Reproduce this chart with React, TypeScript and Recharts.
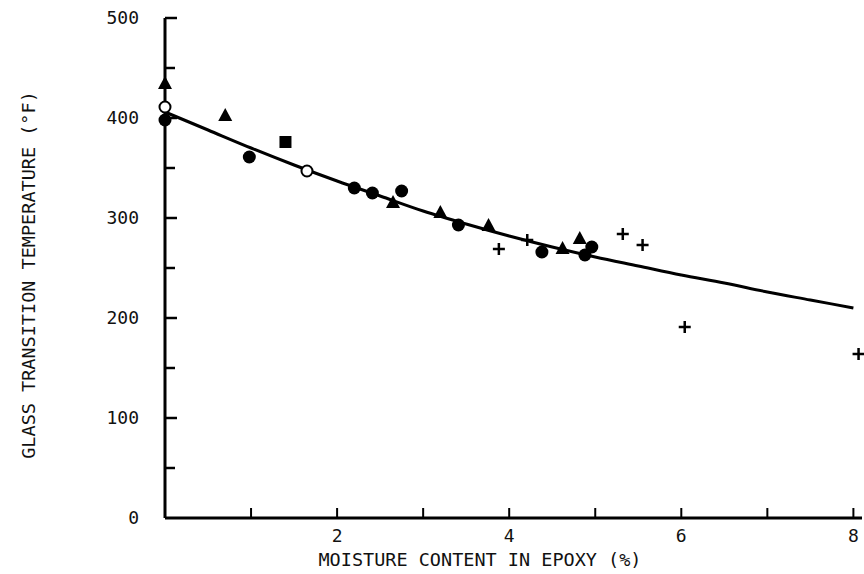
import React from 'react'
import { ComposedChart, Line, Scatter, XAxis, YAxis, Label } from 'recharts'

// x = moisture content (%), y = glass transition temperature (°F)
const xTicks = [0, 1, 2, 3, 4, 5, 6, 7, 8]
const xTickLabels = ['', '', '2', '', '4', '', '6', '', '8']
const yTicks = [0, 50, 100, 150, 200, 250, 300, 350, 400, 450, 500]
const yTickLabels = ['0', '', '100', '', '200', '', '300', '', '400', '', '500']

const fitCurve = [
  { x: 0, y: 406 }, { x: 0.5, y: 388 }, { x: 1, y: 370 }, { x: 1.5, y: 353 },
  { x: 2, y: 337 }, { x: 2.5, y: 322 }, { x: 3, y: 307 }, { x: 3.5, y: 294 },
  { x: 4, y: 282 }, { x: 4.5, y: 271 }, { x: 5, y: 261 }, { x: 5.5, y: 252 },
  { x: 6, y: 243 }, { x: 6.5, y: 235 }, { x: 7, y: 226 }, { x: 7.5, y: 218 },
  { x: 8, y: 210 }
]

const triangles = [
  { x: 0, y: 435 }, { x: 0.7, y: 403 }, { x: 2.65, y: 316 }, { x: 3.2, y: 306 },
  { x: 3.76, y: 293 }, { x: 4.62, y: 270 }, { x: 4.82, y: 280 }
]
const filledCircles = [
  { x: 0, y: 398 }, { x: 0.98, y: 361 }, { x: 2.2, y: 330 }, { x: 2.41, y: 325 },
  { x: 2.75, y: 327 }, { x: 3.41, y: 293 }, { x: 4.38, y: 266 }, { x: 4.88, y: 263 },
  { x: 4.96, y: 271 }
]
const squares = [{ x: 1.4, y: 376 }]
const openCircles = [{ x: 0, y: 411 }, { x: 1.65, y: 347 }]
const crosses = [
  { x: 3.88, y: 269 }, { x: 4.21, y: 278 }, { x: 5.32, y: 284 },
  { x: 5.55, y: 273 }, { x: 6.04, y: 191 }, { x: 8.06, y: 164 }
]

const FONT = '"DejaVu Sans Mono", "Liberation Mono", monospace'

const Tri = (p: any) => (
  <polygon
    points={`${p.cx},${p.cy - 7} ${p.cx - 7},${p.cy + 6} ${p.cx + 7},${p.cy + 6}`}
    fill="#000"
  />
)
const Dot = (p: any) => <circle cx={p.cx} cy={p.cy} r={6.5} fill="#000" />
const Ring = (p: any) => (
  <circle cx={p.cx} cy={p.cy} r={5.5} fill="#fff" stroke="#000" strokeWidth={2} />
)
const Sq = (p: any) => <rect x={p.cx - 6} y={p.cy - 6} width={12} height={12} fill="#000" />
const Plus = (p: any) => (
  <path
    d={`M${p.cx - 6},${p.cy}H${p.cx + 6}M${p.cx},${p.cy - 6}V${p.cy + 6}`}
    stroke="#000"
    strokeWidth={2.5}
  />
)

const XTick = (p: any) => {
  const i = xTicks.indexOf(p.payload.value)
  return (
    <g>
      {p.payload.value > 0 && (
        <line x1={p.x} y1={p.y} x2={p.x} y2={p.y - 10} stroke="#000" strokeWidth={2} />
      )}
      <text x={p.x} y={p.y + 24} textAnchor="middle" fontFamily={FONT} fontSize={18} fill="#111">
        {xTickLabels[i]}
      </text>
    </g>
  )
}

const YTick = (p: any) => {
  const i = yTicks.indexOf(p.payload.value)
  const major = p.payload.value % 100 === 0
  return (
    <g>
      {p.payload.value > 0 && (
        <line x1={p.x} y1={p.y} x2={p.x + (major ? 12 : 10)} y2={p.y} stroke="#000" strokeWidth={2.5} />
      )}
      <text x={p.x - 26} y={p.y + 6} textAnchor="end" fontFamily={FONT} fontSize={18} fill="#111">
        {yTickLabels[i]}
      </text>
    </g>
  )
}

export default function App() {
  return (
    <div style={{ position: 'absolute', left: 0, top: 0, background: '#fff' }}>
      <ComposedChart width={864} height={574} margin={{ top: 18, right: 2, bottom: 0, left: 0 }}>
        <XAxis
          type="number"
          dataKey="x"
          domain={[0, 8.1]}
          ticks={xTicks}
          height={56}
          tickSize={0}
          tickMargin={0}
          tickLine={false}
          tick={<XTick />}
          axisLine={{ stroke: '#000', strokeWidth: 3 }}
        >
          <Label
            content={() => (
              <text x={480} y={566} textAnchor="middle" fontFamily={FONT} fontSize={18.5} fill="#111">
                MOISTURE CONTENT IN EPOXY (%)
              </text>
            )}
          />
        </XAxis>
        <YAxis
          type="number"
          domain={[0, 500]}
          ticks={yTicks}
          width={165}
          tickSize={0}
          tickMargin={0}
          tickLine={false}
          tick={<YTick />}
          axisLine={{ stroke: '#000', strokeWidth: 3 }}
        >
          <Label
            content={() => (
              <text
                x={28}
                y={275}
                transform="rotate(-90, 28, 275)"
                textAnchor="middle"
                dominantBaseline="central"
                fontFamily={FONT}
                fontSize={18.5}
                fill="#111"
              >
                GLASS TRANSITION TEMPERATURE (°F)
              </text>
            )}
          />
        </YAxis>
        <Line
          data={fitCurve}
          dataKey="y"
          type="monotone"
          stroke="#000"
          strokeWidth={3}
          dot={false}
          isAnimationActive={false}
        />
        <Scatter data={triangles} dataKey="y" shape={Tri} isAnimationActive={false} />
        <Scatter data={filledCircles} dataKey="y" shape={Dot} isAnimationActive={false} />
        <Scatter data={squares} dataKey="y" shape={Sq} isAnimationActive={false} />
        <Scatter data={openCircles} dataKey="y" shape={Ring} isAnimationActive={false} />
        <Scatter data={crosses} dataKey="y" shape={Plus} isAnimationActive={false} />
      </ComposedChart>
    </div>
  )
}
